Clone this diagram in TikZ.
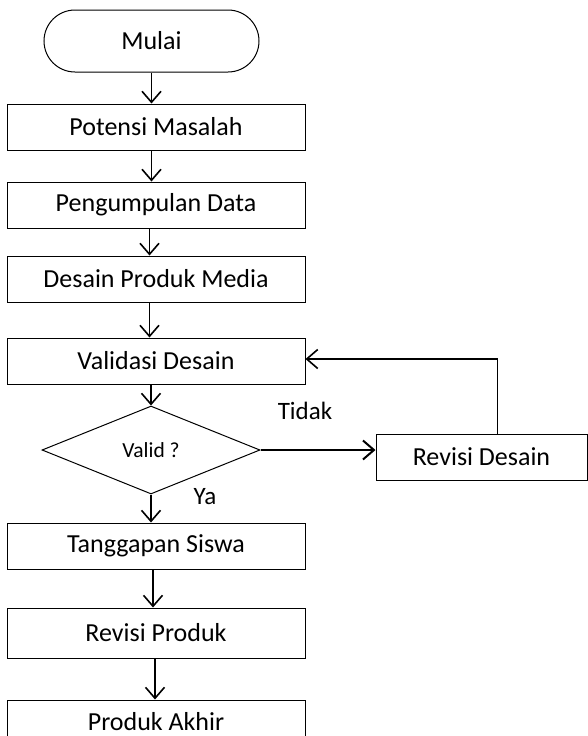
\documentclass[tikz,border=0pt]{standalone}
\usepackage{fontspec}
\setmainfont{Carlito}
\usepackage{tikz}
\usetikzlibrary{
    arrows.meta,
    positioning,
    shapes.geometric
}
\tikzset{
    terminal/.style={
        rectangle, draw, line width=1pt,
        rounded corners=31pt, minimum height=62pt,
        minimum width=215pt, align=center,
        font=\fontsize{26}{30}\selectfont
    },
    process/.style={
        rectangle, draw, line width=1pt,
        minimum height=46pt, minimum width=298pt,
        align=center, inner sep=0pt,
        font=\fontsize{26}{30}\selectfont
    },
    decision/.style={
        diamond, draw, line width=1pt, aspect=2.5,
        minimum width=218pt, minimum height=88pt,
        inner sep=0pt, font=\fontsize{21.5}{26}\selectfont
    },
    branch label/.style={
        font=\fontsize{25}{28}\selectfont
    },
    flow/.style={
        -{Straight Barb[length=11pt, width=19pt]}, line width=1.6pt
    },
}

\begin{document}
\begin{tikzpicture}[node distance=31pt]

    \useasboundingbox (0,0) rectangle (587pt,-736pt);

    % -- main column --
    \node[terminal] (mulai) at (151.5pt,-41pt) {Mulai};
    \node[process, below=31pt of mulai, xshift=4.5pt] (potensi) {Potensi Masalah};
    \node[process, below=31pt of potensi] (pengumpulan) {Pengumpulan Data};
    \node[process, below=27pt of pengumpulan] (desain) {Desain Produk Media};
    \node[process, below=35pt of desain] (validasi) {Validasi Desain};
    \node[decision, below=21pt of validasi, xshift=-5pt] (valid) {Valid ?};
    \node[process, below=28pt of valid, xshift=5pt] (tanggapan) {Tanggapan Siswa};
    \node[process, below=38pt of tanggapan, minimum height=50pt] (revproduk) {Revisi Produk};
    \node[process, below=41pt of revproduk, minimum height=44pt] (akhir) {Produk Akhir};

    % -- loop back --
    \node[process, right=115pt of valid, yshift=-7pt, minimum width=211pt,
          minimum height=46pt] (revdesain) {Revisi Desain};

    \node[branch label] (tidak) at (305pt,-411pt) {Tidak};
    \node[branch label] (ya) at (205pt,-497pt) {Ya};

    \draw[flow] (mulai.south) -- (mulai.south |- potensi.north);
    \draw[flow] (potensi.south -| mulai) -- (pengumpulan.north -| mulai);
    \draw[flow] ([xshift=-2pt]pengumpulan.south -| mulai) -- ([xshift=-2pt]desain.north -| mulai);
    \draw[flow] ([xshift=-2pt]desain.south -| mulai) -- ([xshift=-2pt]validasi.north -| mulai);
    \draw[flow] (validasi.south -| valid.north) -- (valid.north);
    \draw[flow] (valid.south) -- (valid.south |- tanggapan.north);
    \draw[flow] ([xshift=2pt]tanggapan.south -| valid) -- ([xshift=2pt]revproduk.north -| valid);
    \draw[flow] ([xshift=4pt]revproduk.south -| valid) -- ([xshift=4pt]akhir.north -| valid);

    \draw[flow, line width=2pt] (valid.east) -- (valid.east -| revdesain.west);
    \draw[flow] ([xshift=16pt]revdesain.north) |- ([yshift=2pt]validasi.east);

\end{tikzpicture}
\end{document}
